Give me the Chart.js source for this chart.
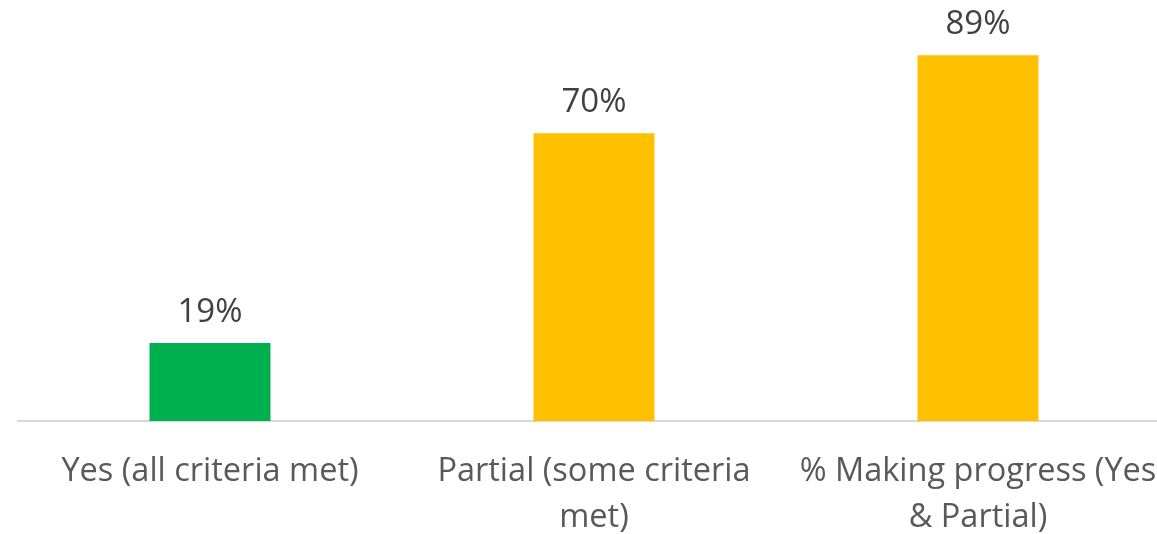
<!DOCTYPE html>
<html lang="en">
<head>
    <meta charset="UTF-8">
    <title>Progress</title>
    <style>
        html, body { margin: 0; padding: 0; overflow: hidden; background: #fff; }
        .box { width: 1170px; height: 534px; }
    </style>
</head>
<body>
    <div class="box">
        <canvas id="myChart"></canvas>
    </div>

<script src="https://cdn.jsdelivr.net/npm/chart.js"></script>
<script>

    // dados
    var categorias = [
        ['Yes (all criteria met)'],
        ['Partial (some criteria', 'met)'],
        ['% Making progress (Yes', '& Partial)']
    ];
    var valores = [0.19, 0.70, 0.89];
    var cores = ['#00B050', '#FFC000', '#FFC000'];

    // rotulos em cima das barras
    const rotulos = {
        id: 'rotulos',
        afterDatasetsDraw(chart) {
            const ctx = chart.ctx;
            const meta = chart.getDatasetMeta(0);
            ctx.save();
            ctx.font = '33px "Open Sans"';
            ctx.fillStyle = '#404040';
            ctx.textAlign = 'center';
            ctx.textBaseline = 'alphabetic';
            meta.data.forEach(function (bar, i) {
                ctx.fillText(Math.round(valores[i] * 100) + '%', bar.x, bar.y - 21);
            });
            ctx.restore();
        }
    };

    const ctx = document.getElementById('myChart');

    new Chart(ctx, {
        type: 'bar',
        data: {
            labels: categorias,
            datasets: [{
                data: valores,
                backgroundColor: cores,
                barPercentage: 0.315,
                categoryPercentage: 1
            }]
        },
        options: {
            responsive: true,
            maintainAspectRatio: false,
            animation: false,
            layout: { padding: { left: 18, top: 10, right: 0, bottom: 0 } },
            plugins: {
                legend: { display: false },
                tooltip: { enabled: false }
            },
            scales: {
                x: {
                    grid: { display: false },
                    border: { display: true, color: '#d9d9d9', width: 2 },
                    ticks: {
                        color: '#595959',
                        font: { family: 'Open Sans', size: 32.5, lineHeight: 1.4 },
                        padding: 20,
                        maxRotation: 0,
                        autoSkip: false
                    },
                    afterFit: function (s) {
                        s.height = 113;
                        s.paddingLeft = 0;
                        s.paddingRight = 0;
                    }
                },
                y: {
                    display: false,
                    min: 0,
                    max: 1
                }
            }
        },
        plugins: [rotulos]
    });

</script>
</body>
</html>
